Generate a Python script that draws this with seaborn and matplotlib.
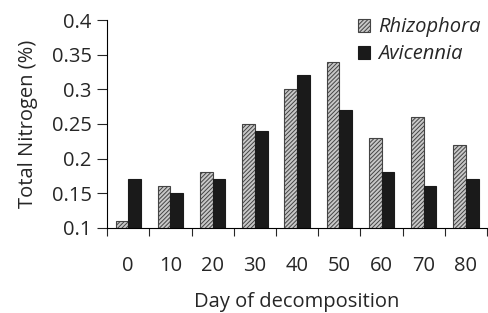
import matplotlib
matplotlib.use("Agg")
import matplotlib.pyplot as plt
import matplotlib.patches as mpatches
import seaborn as sns
import pandas as pd
import numpy as np

days = ["0", "10", "20", "30", "40", "50", "60", "70", "80"]
rhizophora = [0.11, 0.16, 0.18, 0.25, 0.30, 0.34, 0.23, 0.26, 0.22]
avicennia = [0.17, 0.15, 0.17, 0.24, 0.32, 0.27, 0.18, 0.16, 0.17]
species = ["Rhizophora", "Avicennia"]

df = pd.DataFrame({
    "day": days * 2,
    "nitrogen": rhizophora + avicennia,
    "species": [species[0]] * len(days) + [species[1]] * len(days),
})

sns.set_style("white")
plt.rcParams["font.family"] = ["Open Sans", "DejaVu Sans"]
plt.rcParams["hatch.linewidth"] = 0.7
plt.rcParams["hatch.color"] = "#444444"

fs = 14.5

fig = plt.figure(figsize=(4.89, 3.13), dpi=100)
ax = fig.add_axes([0.219, 0.272, 0.777, 0.664])

sns.barplot(data=df, x="day", y="nitrogen", hue="species", order=days,
            hue_order=species, palette=["#c8c8c8", "#1a1a1a"], width=0.6,
            saturation=1, edgecolor="#1a1a1a", linewidth=0.8, ax=ax,
            legend=False)

n = len(days)
for bar in ax.patches[:n]:
    bar.set_hatch("////////")
    bar.set_edgecolor("#444444")

ax.set_ylim(0.1, 0.4)
ax.set_xlim(-0.5, n - 0.5)
ax.set_yticks(np.arange(0.1, 0.401, 0.05))
ax.set_yticklabels(["0.1", "0.15", "0.2", "0.25", "0.3", "0.35", "0.4"])
ax.tick_params(axis="y", labelsize=fs, length=7, width=0.8, direction="out",
               left=True, pad=4)
ax.set_xticks(np.arange(n))
ax.set_xticklabels(days)
ax.tick_params(axis="x", which="major", labelsize=fs, length=0, pad=20)
ax.set_xticks(np.arange(-0.5, n, 1.0), minor=True)
ax.tick_params(axis="x", which="minor", length=6, width=0.8,
               direction="out", bottom=True)

for s in ["top", "right"]:
    ax.spines[s].set_visible(False)
for s in ["left", "bottom"]:
    ax.spines[s].set_color("black")
    ax.spines[s].set_linewidth(0.8)

ax.set_xlabel("Day of decomposition", fontsize=fs, labelpad=12)
ax.set_ylabel("Total Nitrogen (%)", fontsize=fs, labelpad=10)

handles = [
    mpatches.Patch(facecolor="#c8c8c8", edgecolor="#444444", hatch="////////",
                   linewidth=0.8, label=species[0]),
    mpatches.Patch(facecolor="#1a1a1a", edgecolor="#1a1a1a",
                   linewidth=0.8, label=species[1]),
]
ax.legend(handles=handles, loc="upper right", bbox_to_anchor=(1.03, 1.1),
          frameon=False, prop={"style": "italic", "size": fs},
          handlelength=0.6, handleheight=0.6, handletextpad=0.4,
          labelspacing=0.35)

fig.savefig("out.png", dpi=100)
